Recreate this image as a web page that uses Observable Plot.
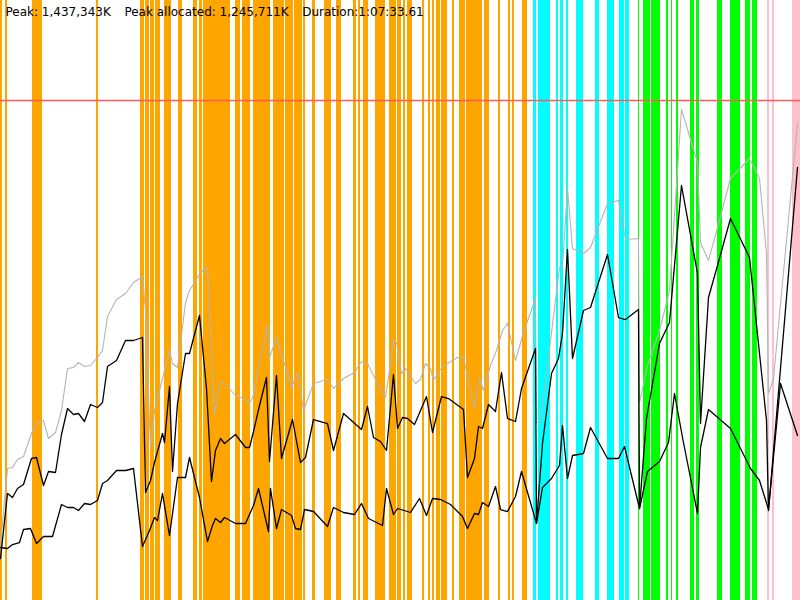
<!DOCTYPE html>
<html>
<head>
<meta charset="utf-8">
<script src="https://cdn.jsdelivr.net/npm/d3@7"></script>
<script src="https://cdn.jsdelivr.net/npm/@observablehq/plot@0.6"></script>
<style>
  html, body { margin: 0; padding: 0; background: #fff; }
  #chart svg { display: block; }
</style>
</head>
<body>
<div id="chart"></div>
<script>
// Header values
const peakK = "1,437,343K";
const peakAllocK = "1,245,711K";
const duration = "1:07:33.61";

// x: percent of run duration, y: percent of peak memory
const peakLevel = [100];

// Phase bands (start, end) in percent of duration
const orangeBands = [[0,0.25],[0.625,0.875],[4,5.25],[12,12.25],[17.5,18],[18.125,18.625],[18.75,19.25],[19.375,20],[20.5,21.375],[22.25,22.75],[24.125,24.625],[24.875,25.25],[25.375,28.75],[29.375,30],[30.25,31.25],[31.625,33.75],[34.125,35.5],[35.625,36.625],[36.75,37.75],[37.875,38.125],[39,39.375],[40.5,41.375],[42,42.625],[44.125,44.5],[44.75,45],[45.375,46],[46.875,48.125],[48.625,49.5],[49.625,50.125],[50.375,50.625],[50.875,51.5],[52.75,53],[53.5,53.75],[54,54.25],[54.5,55],[55.125,55.875],[56.5,56.75],[57.375,58.125],[58.25,60.25],[60.5,61.125],[62.25,62.5],[63.5,63.75],[64,64.25],[65.25,65.875]];
const cyanBands = [[66.625,67],[67.25,68.75],[69.5,69.75],[70,70.375],[70.75,71],[72,72.875],[74.375,74.875],[75.875,76.75],[77.375,78],[78.125,78.625]];
const greenBands = [[79.75,79.875],[80.375,81.25],[81.375,82.5],[83.25,83.5],[83.875,84],[84.5,84.75],[86.25,86.75],[87,87.375],[89.625,90.25],[91.25,92.5],[93.125,93.75],[94,94.625]];
const pinkBands = [[95.875,96.125],[96.5,96.75],[99,100]];

// Total memory (gray)
const grayTime = [0,0.875,1.5,2.125,2.875,3.875,4.5,5.375,6,6.875,7.625,8.375,9.125,9.75,10.5,11.25,12.125,12.75,13.375,14.5,15.625,16.625,17.75,18.125,18.75,19.25,20.25,21.125,21.5,22.125,23.125,23.625,25,25.875,26.75,27.5,28.125,29.375,30.375,31.125,31.625,32.375,33.375,33.625,34.5,35.125,35.875,36.375,37.125,37.875,39.125,40.875,41.625,42.875,44.25,45.125,45.875,46.625,47.25,48.125,48.75,49.125,49.5,50.125,50.625,51.875,52.5,53.125,53.75,54.125,55.25,57.125,57.875,59.25,59.875,60.375,61.25,62,62.75,63.375,64.375,65.375,66.875,67,67.5,69.875,70.25,70.875,71.5,72.875,73.75,75.875,77.25,78.125,79.75,79.875,80.875,82.375,83.625,85.125,87.125,87.5,88.5,89.625,91.25,93.625,94.875,95.75,96,96.625,99.625];
const grayMem = [11,26.4,26.6,28.2,28.8,33.4,35.6,36,32.4,33.6,38,46.4,46.6,47.6,46.8,47,48.6,50,56.8,60.2,61.4,63.6,64.8,58,30.4,38,44.4,50,47.4,46.6,59.6,62,65.6,66.6,37.2,43.6,43.2,41,40.4,39.4,41,47.6,55,48.6,52.6,49,45.6,42.6,45.6,38,43.4,44.2,42.4,44.4,45.6,47.8,47.4,45,43.2,40.6,47.4,52.2,51.6,45.4,46.4,43.4,44.2,47.4,46.4,44,46.8,48.6,48.6,38.4,44.6,42,47,50,54,55.4,48,53.6,60.4,35.6,35.6,66.6,66.8,82.4,70.4,69.4,70.6,79.4,80,72.2,72.4,39.6,47,54,62,98.2,87.6,71.6,68,74.6,84.4,88.4,84.4,69.4,41.4,44.4,95.4];

// Allocated memory (upper black)
const allocTime = [0,0.875,1.5,2.125,2.875,3.875,4.5,5.375,6,6.875,7.625,8.375,9.125,9.75,10.5,11.25,12.125,12.75,13.375,14.5,15.625,16.625,17.75,18.125,18.75,19.25,20.25,20.5,21.125,21.5,22.125,23.125,23.625,24.875,25.75,26.375,26.875,27.5,28,29.375,30.625,31.125,31.625,32.375,33.25,33.625,34.5,35.125,36.5,37.5,38.125,39.125,40.875,41.625,42.875,45.125,45.875,46.625,47.5,48.25,49.125,49.625,50.25,50.875,51.75,53.25,54,55.125,56,57.875,58.375,59.25,59.75,60.25,61,61.875,62.625,63.375,64.375,65.125,66.875,67,67.75,68.875,69.75,70.25,70.875,71.5,72.875,73.75,75.875,77.25,78.125,79.75,79.875,80.75,82.375,83.625,85.125,87.125,87.5,88.5,89.625,91.25,93.625,95.75,96,99.625];
const allocMem = [8.4,21.4,20.6,22.4,23.2,28.4,28.6,23,25.8,25.6,33.2,38.4,37.2,37.4,35.8,39.2,38.6,39.6,46.8,48,52,52,52.6,21.6,24,27.6,33.4,31.6,42.8,25.8,39.4,49.4,49.4,57,42.4,23.8,30,32.4,31.4,33.2,30.6,30.6,33.8,39,44.6,27.8,45,28.4,36.2,27.6,28.6,36.2,35.4,30,37.4,34.2,38.8,32.6,31.8,30,45.2,34.4,36.6,36.4,35.2,40.8,33.6,40.8,40.4,38.2,24.6,28.4,34.8,34.4,39.2,37.8,45.6,36.4,35.8,42.4,50.4,15.4,31.4,45.4,48.4,53.4,70.2,48.4,58,58.6,69.2,56.6,56.2,58.2,18.4,36.4,51.4,55.6,83,65.4,35.4,60.6,67,76.4,68.6,36,18,86.6];

// Live memory (lower black)
const liveTime = [0,0.875,1.5,2.375,2.875,3.75,4.5,5.375,6.5,7.625,8.375,9.125,9.75,10.5,11.25,12.125,12.75,13.375,14.5,15.625,16.625,17.75,18.625,19.25,19.625,20.25,21.125,22.125,23.125,23.625,24.875,25.875,26.5,26.875,27.5,28,29.375,30.625,31.625,32.25,33.5,33.75,34.5,35.125,36.375,36.875,37.5,38,39.125,40.875,41.625,42.875,44.25,45.125,46,47.75,48.25,49.125,49.625,51.25,52.375,53.25,54,55,56.25,57.75,58.375,59.25,59.75,60.25,61,61.875,62.5,63.375,64.375,65.125,67,67.75,68.875,69.875,70.25,70.875,71.5,72.875,73.75,75.875,77.25,78,79.875,80.875,82.375,83.5,84.25,85.25,87.125,87.5,88.5,91.25,93.75,94.875,96,97.5,99.625];
const liveMem = [10.6,10.4,11.2,11.6,14.2,14.4,11.4,12.8,12.8,19.2,18.6,18.6,18,19.4,19.2,20,23.4,24,26,26,26.4,10.8,14,16.6,16,21.4,13,24.6,24.6,28.6,20.6,11.8,15,16.4,15.6,16.6,15.4,15.4,19,22.4,13.8,22.4,14.4,18.2,17,14.4,14.2,18.2,17.8,14.8,18.6,17.6,17.2,19.4,16.4,15,22.4,17.2,18.4,17.6,20.4,17,20.4,20.2,19.2,16.8,14.4,17.4,17.2,19.6,18.8,22.8,18.2,17.8,20.8,25.8,15.4,22.6,24.4,27,35,24.4,29,29.4,34.6,28.4,28.4,30.8,18.4,25.8,27.8,31.6,41.4,32.6,17.4,30.6,38.2,34.4,26.4,24,18.2,43.4,33];

const bandColors = {orange: "#ffa500", cyan: "#00ffff", green: "#00ff00", pink: "#ffc0cb"};

const bands = [
  ...orangeBands.map(([a, b]) => ({a, b, c: "orange"})),
  ...cyanBands.map(([a, b]) => ({a, b, c: "cyan"})),
  ...greenBands.map(([a, b]) => ({a, b, c: "green"})),
  ...pinkBands.map(([a, b]) => ({a, b, c: "pink"}))
];
const toSeries = (ts, vs) => ts.map((t, i) => ({t, v: vs[i]}));
const gray = toSeries(grayTime, grayMem);
const alloc = toSeries(allocTime, allocMem);
const live = toSeries(liveTime, liveMem);

const header = `Peak: ${peakK}\u2002\u00a0\u00a0Peak allocated: ${peakAllocK}\u2002\u00a0\u00a0Duration:${duration}`;

const chart = Plot.plot({
  width: 800,
  height: 600,
  margin: 0,
  x: {domain: [0, 100], axis: null},
  y: {domain: [0, 120], axis: null},
  marks: [
    Plot.rect(bands, {x1: "a", x2: "b", y1: () => 0, y2: () => 120, fill: d => bandColors[d.c]}),
    Plot.ruleY(peakLevel, {stroke: "#ff5a5a", strokeWidth: 1.5}),
    Plot.line(gray, {x: "t", y: "v", stroke: "#b4b4b4", strokeWidth: 1.1}),
    Plot.line(alloc, {x: "t", y: "v", stroke: "#000", strokeWidth: 1.3}),
    Plot.line(live, {x: "t", y: "v", stroke: "#000", strokeWidth: 1.3}),
    Plot.text([header], {text: d => d, frameAnchor: "top-left", dx: 5, dy: 7, lineAnchor: "top", textAnchor: "start", fontSize: 12, fontFamily: "DejaVu Sans", fill: "#000"})
  ],
  style: {background: "#fff"}
});
document.getElementById("chart").appendChild(chart);
</script>
</body>
</html>
